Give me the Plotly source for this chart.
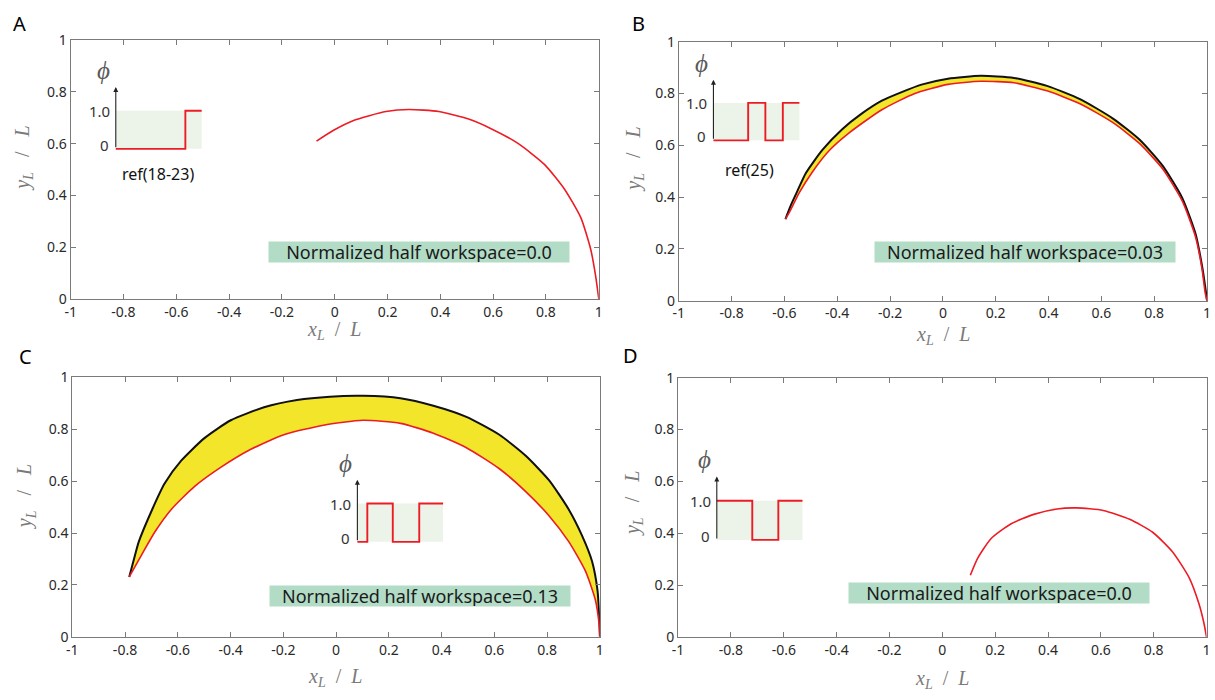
import plotly.graph_objects as go

# ---------------- data ----------------
x_ticks = [-1, -0.8, -0.6, -0.4, -0.2, 0, 0.2, 0.4, 0.6, 0.8, 1]
x_ticklabels = ["-1", "-0.8", "-0.6", "-0.4", "-0.2", "0", "0.2", "0.4", "0.6", "0.8", "1"]
y_ticks = [0, 0.2, 0.4, 0.6, 0.8, 1]
y_ticklabels = ["0", "0.2", "0.4", "0.6", "0.8", "1"]

# Panel A (red only)
a_red_x = [-0.069, -0.006, 0.069, 0.194, 0.281, 0.394, 0.507, 0.594, 0.694, 0.794, 0.869, 0.932, 0.970, 0.988, 1.0]
a_red_y = [0.610, 0.651, 0.689, 0.724, 0.732, 0.724, 0.695, 0.657, 0.601, 0.520, 0.426, 0.314, 0.189, 0.089, 0.0]

# Panel B
b_black_x = [-0.596, -0.575, -0.550, -0.519, -0.456, -0.381, -0.310, -0.231, -0.156, -0.081, 0.019, 0.144, 0.269,
             0.394, 0.519, 0.644, 0.744, 0.831, 0.906, 0.956, 0.981, 0.995, 1.0]
b_black_y = [0.315, 0.370, 0.425, 0.492, 0.582, 0.662, 0.720, 0.772, 0.805, 0.834, 0.857, 0.868, 0.860,
             0.829, 0.778, 0.703, 0.622, 0.522, 0.397, 0.260, 0.135, 0.040, 0.0]
b_red_x = [-0.596, -0.581, -0.544, -0.494, -0.431, -0.356, -0.231, -0.106, 0.019, 0.144, 0.269, 0.394, 0.519,
           0.644, 0.744, 0.831, 0.906, 0.956, 0.981, 0.993, 1.0]
b_red_y = [0.315, 0.341, 0.416, 0.497, 0.579, 0.647, 0.737, 0.800, 0.835, 0.847, 0.841, 0.810, 0.760,
           0.687, 0.607, 0.510, 0.385, 0.248, 0.123, 0.030, 0.0]

# Panel C
c_black_x = [-0.784, -0.768, -0.748, -0.697, -0.650, -0.587, -0.499, -0.399, -0.273, -0.148, -0.023, 0.102, 0.244,
             0.369, 0.494, 0.619, 0.719, 0.807, 0.882, 0.932, 0.970, 0.991, 0.998, 1.0]
c_black_y = [0.231, 0.292, 0.366, 0.491, 0.591, 0.679, 0.766, 0.835, 0.885, 0.913, 0.926, 0.929, 0.920,
             0.891, 0.848, 0.779, 0.698, 0.604, 0.491, 0.391, 0.292, 0.179, 0.066, 0.0]
c_red_x = [-0.784, -0.737, -0.687, -0.624, -0.537, -0.436, -0.323, -0.198, -0.048, 0.102, 0.244, 0.369, 0.494,
           0.619, 0.719, 0.807, 0.882, 0.945, 0.983, 0.998, 1.0]
c_red_y = [0.231, 0.316, 0.404, 0.492, 0.579, 0.654, 0.723, 0.779, 0.816, 0.835, 0.823, 0.785, 0.729,
           0.648, 0.560, 0.467, 0.367, 0.254, 0.142, 0.040, 0.0]

# Panel D (red only)
d_red_x = [0.106, 0.134, 0.184, 0.259, 0.346, 0.434, 0.509, 0.609, 0.709, 0.796, 0.871, 0.934, 0.971, 0.990, 1.0]
d_red_y = [0.238, 0.304, 0.379, 0.436, 0.473, 0.494, 0.498, 0.488, 0.454, 0.404, 0.329, 0.229, 0.129, 0.054, 0.0]

# Inset step profiles (phi)
a_phi_x = [0, 0.81, 1]
a_phi_y = [0, 1, 1]
b_phi_x = [0, 0.404, 0.604, 0.807, 1]
b_phi_y = [0, 1, 0, 1, 1]
c_phi_x = [0, 0.116, 0.413, 0.722, 1]
c_phi_y = [0, 1, 0, 1, 1]
d_phi_x = [0, 0.414, 0.718, 1]
d_phi_y = [1, 0, 1, 1]

workspace_labels = ["Normalized half workspace=0.0", "Normalized half workspace=0.03",
                    "Normalized half workspace=0.13", "Normalized half workspace=0.0"]
ref_labels = ["ref(18-23)", "ref(25)"]
panel_letters = ["A", "B", "C", "D"]

# ---------------- layout helpers ----------------
W, H = 1215, 700
RED = "#ed1c24"
BLACK = "#111111"
YELLOW = "#f2e52a"
AXC = "#7a7a7a"
TICKFONT = dict(family="Noto Sans", size=14, color="#2a2a2a")
SERIF = "Liberation Serif, DejaVu Serif, serif"
NB = "\u00a0"


def px_dom_x(a, b):
    return [a / W, b / W]


def px_dom_y(top, bot):
    return [1 - bot / H, 1 - top / H]


main = {
    1: dict(x=(65.2, 597.7), y=(31.0, 297.0)),
    2: dict(x=(678.3, 1211.0), y=(32.5, 298.8)),
    3: dict(x=(66.8, 598.8), y=(377.7, 644.3)),
    4: dict(x=(677.7, 1210.5), y=(378.0, 644.5)),
}
insets = {
    5: (110.7, 197.3, 103.5, 142.7),
    6: (713.3, 800.0, 95.5, 134.0),
    7: (354.3, 440.7, 507.3, 546.7),
    8: (716.7, 803.1, 504.5, 544.7),
}
PX_L, PX_R = 0.35, 0.10   # inset range padding (fractions of the box)
PY_B, PY_T = 1.10, 1.40
IX = [-PX_L, 1 + PX_R]
IY = [-PY_B, 1 + PY_T]

fig = go.Figure()
layout = dict(width=W, height=H, margin=dict(l=0, r=0, t=0, b=0),
              paper_bgcolor="white", plot_bgcolor="rgba(0,0,0,0)", showlegend=False)

for k, d in main.items():
    sx = "" if k == 1 else str(k)
    layout["xaxis" + sx] = dict(domain=px_dom_x(*d["x"]), range=[-1, 1], anchor="y" + sx,
                                tickvals=x_ticks, ticktext=x_ticklabels, ticks="inside", ticklen=5,
                                tickcolor=AXC, showline=True, linecolor=AXC, linewidth=1, mirror="ticks",
                                showgrid=False, zeroline=False, tickfont=TICKFONT)
    layout["yaxis" + sx] = dict(domain=px_dom_y(*d["y"]), range=[0, 1], anchor="x" + sx,
                                tickvals=y_ticks, ticktext=y_ticklabels, ticks="inside", ticklen=5,
                                tickcolor=AXC, showline=True, linecolor=AXC, linewidth=1, mirror="ticks",
                                showgrid=False, zeroline=False, tickfont=TICKFONT)

for k, (x0, x1, yt, yb) in insets.items():
    w = x1 - x0
    h = yb - yt
    layout["xaxis%d" % k] = dict(domain=[(x0 - PX_L * w) / W, (x1 + PX_R * w) / W], range=IX,
                                 anchor="y%d" % k, visible=False, fixedrange=True)
    layout["yaxis%d" % k] = dict(domain=[1 - (yb + PY_B * h) / H, 1 - (yt - PY_T * h) / H], range=IY,
                                 anchor="x%d" % k, visible=False, fixedrange=True)

fig.update_layout(**layout)


def ax(k):
    return ("x", "y") if k == 1 else ("x%d" % k, "y%d" % k)


def band(k, bx, by, rx, ry):
    xa, ya = ax(k)
    fig.add_trace(go.Scatter(x=list(bx) + list(reversed(rx)), y=list(by) + list(reversed(ry)),
                             mode="lines", fill="toself", fillcolor=YELLOW,
                             line=dict(width=0, shape="spline", smoothing=0.6),
                             xaxis=xa, yaxis=ya, hoverinfo="skip"))
    fig.add_trace(go.Scatter(x=bx, y=by, mode="lines",
                             line=dict(color=BLACK, width=2, shape="spline", smoothing=0.6),
                             xaxis=xa, yaxis=ya))


def red(k, rx, ry):
    xa, ya = ax(k)
    fig.add_trace(go.Scatter(x=rx, y=ry, mode="lines",
                             line=dict(color=RED, width=1.6, shape="spline", smoothing=0.6),
                             xaxis=xa, yaxis=ya))


red(1, a_red_x, a_red_y)
band(2, b_black_x, b_black_y, b_red_x, b_red_y)
red(2, b_red_x, b_red_y)
band(3, c_black_x, c_black_y, c_red_x, c_red_y)
red(3, c_red_x, c_red_y)
red(4, d_red_x, d_red_y)

# insets
shapes = []
annotations = []
for k, (px_, py_) in zip([5, 6, 7, 8], [(a_phi_x, a_phi_y), (b_phi_x, b_phi_y),
                                       (c_phi_x, c_phi_y), (d_phi_x, d_phi_y)]):
    xa, ya = "x%d" % k, "y%d" % k
    shapes.append(dict(type="rect", xref=xa, yref=ya, x0=0, x1=1, y0=0, y1=1,
                       fillcolor="#ecf4e9", line=dict(width=0), layer="below"))
    fig.add_trace(go.Scatter(x=px_, y=py_, mode="lines", line=dict(color=RED, width=1.9, shape="hv"),
                             xaxis=xa, yaxis=ya))
    annotations.append(dict(xref=xa, yref=ya, axref=xa, ayref=ya, x=0, y=1.62, ax=0, ay=0,
                            showarrow=True, arrowhead=2, arrowsize=0.9, arrowwidth=1.1,
                            arrowcolor="#222222", text="", standoff=0, startstandoff=0))
    annotations.append(dict(xref=xa, yref=ya, x=0, y=1, text="1.0", showarrow=False, xanchor="right",
                            yanchor="middle", xshift=-4, font=dict(family="Noto Sans", size=15, color="#333")))
    annotations.append(dict(xref=xa, yref=ya, x=0, y=0, text="0", showarrow=False, xanchor="right",
                            yanchor="middle", xshift=-5, yshift=4,
                            font=dict(family="Noto Sans", size=15, color="#333")))
    annotations.append(dict(xref=xa, yref=ya, x=-0.14, y=2.05, text="<i>ϕ</i>", showarrow=False,
                            xanchor="center", yanchor="middle",
                            font=dict(family=SERIF, size=25, color="#5a5a5a")))

annotations.append(dict(xref="x5", yref="y5", x=0.49, y=-0.65, text=ref_labels[0], showarrow=False,
                        xanchor="center", yanchor="middle",
                        font=dict(family="Noto Sans", size=16, color="#111")))
annotations.append(dict(xref="x6", yref="y6", x=0.42, y=-0.79, text=ref_labels[1], showarrow=False,
                        xanchor="center", yanchor="middle",
                        font=dict(family="Noto Sans", size=16, color="#111")))

# workspace boxes
box_pos = [(1, 0.32, 0.183), (2, 0.311, 0.186), (3, 0.317, 0.158), (4, 0.216, 0.170)]
for (k, bxp, byp), txt in zip(box_pos, workspace_labels):
    xa, ya = ax(k)
    annotations.append(dict(xref=xa, yref=ya, x=bxp, y=byp, text=txt, showarrow=False,
                            xanchor="center", yanchor="middle", width=300, height=20,
                            bgcolor="#b3dcc7", borderpad=0, align="center",
                            font=dict(family="Noto Sans", size=18, color="#1a1a1a")))

# axis titles
xt = "<i>x<sub>L</sub></i>" + NB * 2 + "/" + NB * 2 + "<i>L</i>"
yt = "<i>y<sub>L</sub></i>" + NB * 3 + "/" + NB * 3 + "<i>L</i>"
for (cx, cy) in [(331, 329), (945, 335), (332, 686), (944, 688)]:
    annotations.append(dict(xref="paper", yref="paper", x=cx / W, y=1 - cy / H, text=xt, showarrow=False,
                            xanchor="center", yanchor="middle", font=dict(family=SERIF, size=20, color="#7a7a7a")))
for (cx, cy) in [(18, 152), (634, 153), (20, 500), (632, 507)]:
    annotations.append(dict(xref="paper", yref="paper", x=cx / W, y=1 - cy / H, text=yt, showarrow=False,
                            textangle=-90, xanchor="center", yanchor="middle",
                            font=dict(family=SERIF, size=20, color="#7a7a7a")))

# panel letters
for (cx, cy), L in zip([(14, 14), (638, 14), (20, 356), (630, 355)], panel_letters):
    annotations.append(dict(xref="paper", yref="paper", x=cx / W, y=1 - cy / H, text=L, showarrow=False,
                            xanchor="center", yanchor="middle", font=dict(family="Noto Sans", size=20, color="#000")))

fig.update_layout(shapes=shapes, annotations=annotations)
fig.write_html("out.html", config={"displayModeBar": False},
               post_script="document.body.style.margin='0px';document.body.style.overflow='hidden';")
